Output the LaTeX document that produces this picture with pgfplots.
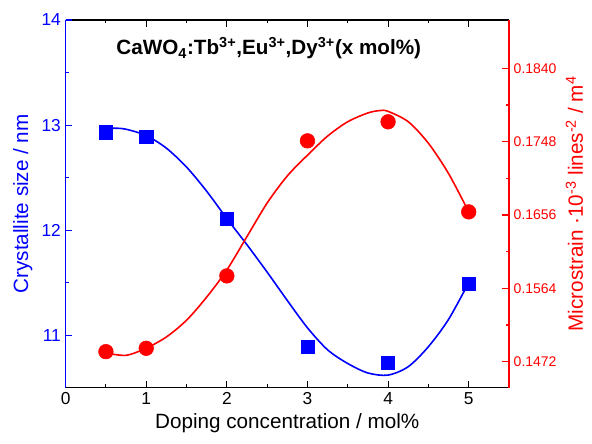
\documentclass[border=0pt]{standalone}
\usepackage{pgfplots}
\pgfplotsset{compat=1.18}
\usepackage{fontspec}
\setmainfont{Liberation Sans}

\pgfplotstableread{
x y
0.5 12.93
1.0 12.89
2.0 12.11
3.0 10.89
4.0 10.74
5.0 11.49
}\sizedata

\pgfplotstableread{
x y
0.5 12.96
0.6 12.97
0.75 12.96
1.0 12.90
1.25 12.78
1.5 12.60
1.75 12.37
2.0 12.11
2.25 11.86
2.5 11.60
2.75 11.33
3.0 11.07
3.25 10.86
3.5 10.73
3.75 10.64
4.0 10.62
4.25 10.70
4.5 10.89
4.75 11.15
5.0 11.50
}\sizefit

\pgfplotstableread{
x y
0.5 0.14846
1.0 0.14888
2.0 0.15796
3.0 0.17490
4.0 0.17729
5.0 0.16599
}\straindata

\pgfplotstableread{
x y
0.5 0.1483
0.75 0.1480
1.0 0.1489
1.25 0.1503
1.5 0.1524
1.75 0.1553
2.0 0.1587
2.25 0.1629
2.5 0.1671
2.75 0.1705
3.0 0.1731
3.25 0.1755
3.5 0.1773
3.75 0.1784
3.9 0.1787
4.0 0.1786
4.25 0.1773
4.5 0.1746
4.75 0.1708
5.0 0.1660
}\strainfit

\begin{document}
\begin{tikzpicture}
% x axis (black box top and bottom)
\begin{axis}[
  name=main,
  scale only axis, width=332.6pt, height=275.8pt,
  xmin=0, xmax=5.5,
  ymin=10.5, ymax=14,
  axis y line=none,
  tick align=inside,
  major tick length=5pt, minor tick length=2.5pt,
  xtick={0,1,2,3,4,5}, xticklabels={0,1,2,3,4,5},
  minor x tick num=1,
  x axis line style={black, line width=1pt},
  major tick style={line width=0.8pt, black},
  minor tick style={line width=0.8pt, black},
  xticklabel style={black, font=\fontsize{13}{13}\selectfont},
  xlabel={Doping concentration / mol\%},
  xlabel style={font=\fontsize{15.5}{15.5}\selectfont},
]
\node[font=\bfseries\fontsize{15.5}{15.5}\selectfont] at (axis cs:2.52,13.73)
  {CaWO\textsubscript{4}:Tb\textsuperscript{3+},Eu\textsuperscript{3+},Dy\textsuperscript{3+}(x mol\%)};
\end{axis}
% left y axis (blue)
\begin{axis}[
  scale only axis, width=332.6pt, height=275.8pt,
  xmin=0, xmax=5.5,
  ymin=10.5, ymax=14,
  axis y line*=left,
  axis x line=none,
  tick align=inside,
  major tick length=5pt, minor tick length=2.5pt,
  ytick={11,12,13,14}, yticklabels={11,12,13,14},
  minor y tick num=1,
  y axis line style={blue, line width=1pt},
  major tick style={line width=0.8pt, blue},
  minor tick style={line width=0.8pt, blue},
  yticklabel style={blue, font=\fontsize{13}{13}\selectfont},
  ylabel={Crystallite size / nm},
  ylabel style={blue, font=\fontsize{15.5}{15.5}\selectfont},
]
\addplot[blue, line width=1.2pt, smooth, tension=0.5, no marks] table {\sizefit};
\addplot[blue, only marks, mark=square*, mark size=5pt] table {\sizedata};
\end{axis}
% right y axis (red)
\begin{axis}[
  scale only axis, width=332.6pt, height=275.8pt,
  xmin=0, xmax=5.5,
  ymin=0.14394, ymax=0.19006,
  axis y line*=right,
  axis x line=none,
  tick align=inside,
  major tick length=5pt, minor tick length=2.5pt,
  scaled y ticks=false,
  ytick={0.1472,0.1564,0.1656,0.1748,0.1840},
  yticklabels={0.1472,0.1564,0.1656,0.1748,0.1840},
  minor y tick num=1,
  y axis line style={red, line width=1pt},
  major tick style={line width=0.8pt, red},
  minor tick style={line width=0.8pt, red},
  yticklabel style={red, font=\fontsize{10.5}{10.5}\selectfont},
  ylabel={Microstrain ·10\textsuperscript{-3} lines\textsuperscript{-2} / m\textsuperscript{4}},
  ylabel style={red, font=\fontsize{15.5}{15.5}\selectfont},
]
\addplot[red, line width=1.2pt, smooth, tension=0.5, no marks] table {\strainfit};
\addplot[red, only marks, mark=*, mark size=5.5pt] table {\straindata};
\end{axis}
\pgfresetboundingbox
\path[use as bounding box] ([shift={(-49.2pt,-42.2pt)}]main.south west) rectangle ([shift={(62.25pt,15pt)}]main.north east);
\end{tikzpicture}
\end{document}
